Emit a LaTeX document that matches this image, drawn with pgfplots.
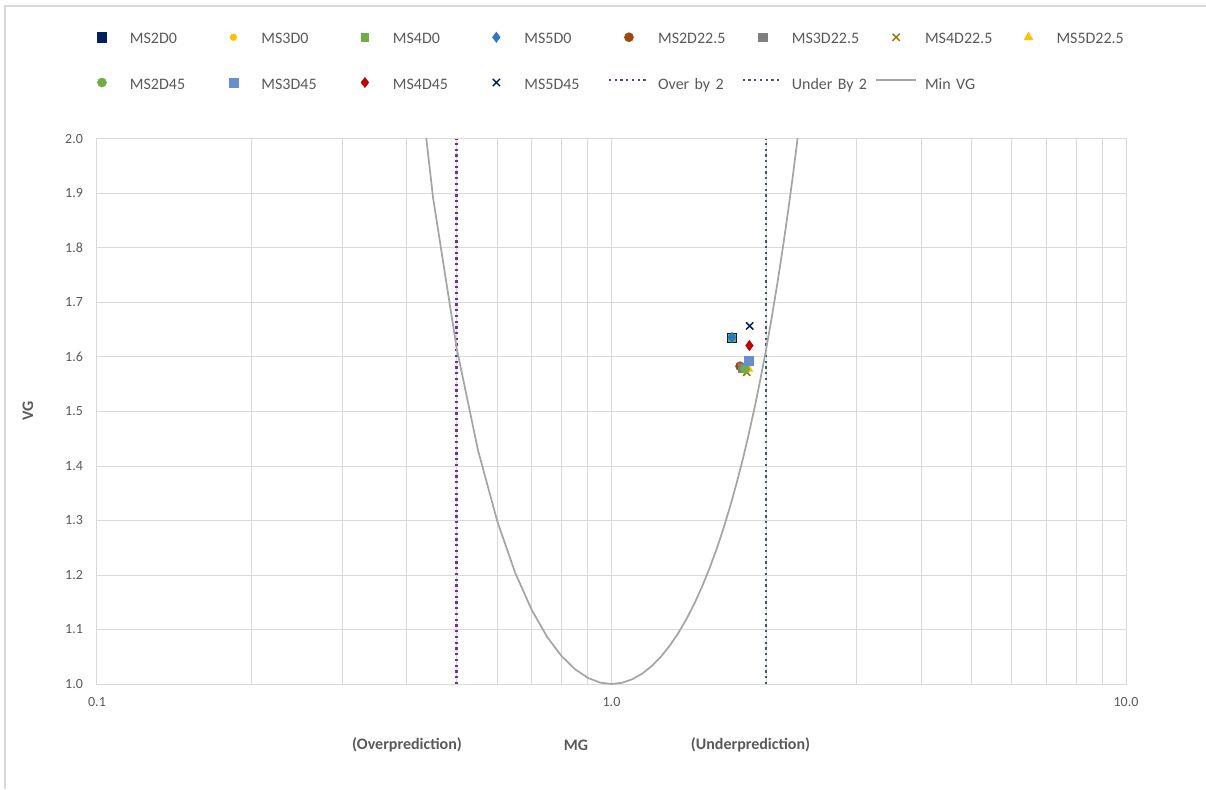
\documentclass[border=0pt]{standalone}
\usepackage{fontspec}
\setmainfont{Carlito}
\usepackage{pgfplots}
\pgfplotsset{compat=1.18}

\definecolor{gridgray}{HTML}{D9D9D9}
\definecolor{txtgray}{HTML}{595959}
\definecolor{cNavy}{HTML}{002060}
\definecolor{cGold}{HTML}{FFC000}
\definecolor{cGreen}{HTML}{70AD47}
\definecolor{cBlue}{HTML}{2E75C6}
\definecolor{cBrown}{HTML}{9E480E}
\definecolor{cGray}{HTML}{7F7F7F}
\definecolor{cOlive}{HTML}{997300}
\definecolor{cLtBlue}{HTML}{698ED0}
\definecolor{cRed}{HTML}{C00000}
\definecolor{cPurple}{HTML}{7030A0}
\definecolor{cSlate}{HTML}{44546A}
\definecolor{cCurve}{HTML}{A5A5A5}

\pgfplotsset{
  marklegend/.style={legend image code/.code={
      \path[draw=none, fill=none] (0pt,-1pt) (30pt,8pt);
      \draw[mark repeat=2,mark phase=2,##1] plot coordinates {(0pt,1.9pt) (15pt,1.9pt) (30pt,1.9pt)};}},
  linelegend/.style={legend image code/.code={
      \path[draw=none, fill=none] (0pt,-1pt) (30pt,8pt);
      \draw[##1] (0pt,3.9pt) -- (30pt,3.9pt);}},
  pt/.style={only marks, marklegend, mark options={solid}},
}

\begin{document}
\begin{tikzpicture}
\begin{axis}[
  at={(0pt,0pt)}, anchor=south west,
  scale only axis, width=771.75pt, height=408.75pt,
  clip mode=individual,
  xmode=log, xmin=0.1, xmax=10, ymin=1, ymax=2,
  xtick={0.1,1,10}, xticklabels={0.1,1.0,10.0},
  minor xtick={0.2,0.3,0.4,0.5,0.6,0.7,0.8,0.9,2,3,4,5,6,7,8,9},
  ytick={1.0,1.1,1.2,1.3,1.4,1.5,1.6,1.7,1.8,1.9,2.0},
  /pgf/number format/assume math mode=true,
  grid=both,
  major grid style={gridgray, line width=0.75pt},
  minor grid style={gridgray, line width=0.75pt},
  axis line style={gridgray, line width=0.75pt},
  tick style={draw=none},
  ticklabel style={font=\fontsize{10.5}{12}\selectfont, text=txtgray},
  xticklabel style={yshift=-6.5pt},
  yticklabel style={/pgf/number format/fixed, /pgf/number format/fixed zerofill,
    /pgf/number format/precision=1, xshift=-7pt},
  legend columns=8,
  legend cell align=left,
  legend style={
    at={(-0.0146,1.2016)}, anchor=north west,
    draw=none, fill=none, inner sep=0pt, outer sep=0pt,
    row sep=21.3pt,
    font=\fontsize{12}{14}\selectfont, text=txtgray,
    nodes={inner sep=0pt},
    /tikz/every odd column/.append style={column sep=6pt},
    /tikz/every even column/.append style={text width=62.6pt},
  },
]
% scatter results (MG, VG) for each configuration
\addplot[pt, color=cNavy, mark=square*, mark size=3.4pt] coordinates {(1.714,1.636)};
\addlegendentry{MS2D0}
\addplot[pt, color=cGold, mark=*, mark size=2.5pt] coordinates {(1.714,1.636)};
\addlegendentry{MS3D0}
\addplot[pt, color=cGreen, mark=square*, mark size=2.7pt] coordinates {(1.714,1.636)};
\addlegendentry{MS4D0}
\addplot[pt, color=cBlue, mark=diamond*, mark size=3.8pt] coordinates {(1.714,1.636)};
\addlegendentry{MS5D0}
\addplot[pt, color=cBrown, mark=*, mark size=3.4pt] coordinates {(1.778,1.583)};
\addlegendentry{MS2D22.5}
\addplot[pt, color=cGray, mark=square*, mark size=3.1pt] coordinates {(1.800,1.580)};
\addlegendentry{MS3D22.5}
\addplot[pt, color=cOlive, mark=x, mark size=3.8pt, line width=1.1pt] coordinates {(1.832,1.572)};
\addlegendentry{MS4D22.5}
\addplot[pt, color=cGold, mark=triangle*, mark size=3.8pt] coordinates {(1.846,1.578)};
\addlegendentry{MS5D22.5}
\addplot[pt, color=cGreen, mark=*, mark size=3.4pt] coordinates {(1.818,1.578)};
\addlegendentry{MS2D45}
\addplot[pt, color=cLtBlue, mark=square*, mark size=3.4pt] coordinates {(1.846,1.593)};
\addlegendentry{MS3D45}
\addplot[pt, color=cRed, mark=diamond*, mark size=3.8pt] coordinates {(1.854,1.621)};
\addlegendentry{MS4D45}
\addplot[pt, color=cNavy, mark=x, mark size=3.8pt, line width=1.1pt] coordinates {(1.856,1.657)};
\addlegendentry{MS5D45}
% factor-of-two bounds
\addplot[linelegend, cPurple, line width=1.7pt, dash pattern=on 1.7pt off 2.6pt] coordinates {(0.5,1) (0.5,2)};
\addlegendentry{Over by 2}
\addplot[linelegend, cSlate, line width=1.7pt, dash pattern=on 1.7pt off 2.6pt] coordinates {(2,1) (2,2)};
\addlegendentry{Under By 2}
% minimum VG for a given MG
\addplot[linelegend, cCurve, line width=1.3pt] coordinates {
 (0.40,2.3154) (0.45,1.8920) (0.50,1.6168) (0.55,1.4296) (0.60,1.2982)
 (0.65,1.2039) (0.70,1.1357) (0.75,1.0863) (0.80,1.0511) (0.85,1.0268)
 (0.90,1.0112) (0.95,1.0026) (1.00,1.0000) (1.05,1.0024) (1.10,1.0091)
 (1.15,1.0197) (1.20,1.0338) (1.25,1.0511) (1.30,1.0713) (1.35,1.0942)
 (1.40,1.1199) (1.45,1.1480) (1.50,1.1787) (1.55,1.2117) (1.60,1.2472)
 (1.65,1.2850) (1.70,1.3252) (1.75,1.3678) (1.80,1.4127) (1.85,1.4600)
 (1.90,1.5098) (1.95,1.5621) (2.00,1.6168) (2.05,1.6741) (2.10,1.7341)
 (2.15,1.7966) (2.20,1.8620) (2.25,1.9301) (2.30,2.0012) (2.35,2.0752)
 (2.40,2.1521)};
\addlegendentry{Min VG}

\node[font=\bfseries\fontsize{12}{14}\selectfont, text=txtgray] at (rel axis cs:0.3013,-0.112) {(Overprediction)};
\node[font=\bfseries\fontsize{12}{14}\selectfont, text=txtgray] at (rel axis cs:0.4655,-0.112) {MG};
\node[font=\bfseries\fontsize{12}{14}\selectfont, text=txtgray] at (rel axis cs:0.6351,-0.112) {(Underprediction)};
\node[font=\bfseries\fontsize{12}{14}\selectfont, text=txtgray, rotate=90] at (rel axis cs:-0.0671,0.501) {VG};
\end{axis}
% chart area border
\draw[gridgray, line width=1.1pt] (-69pt,-78.75pt) -- (-69pt,508.5pt) -- (831.75pt,508.5pt);
\pgfresetboundingbox
\path[use as bounding box] (-72.75pt,-78.75pt) rectangle (831.75pt,513pt);
\end{tikzpicture}
\end{document}
